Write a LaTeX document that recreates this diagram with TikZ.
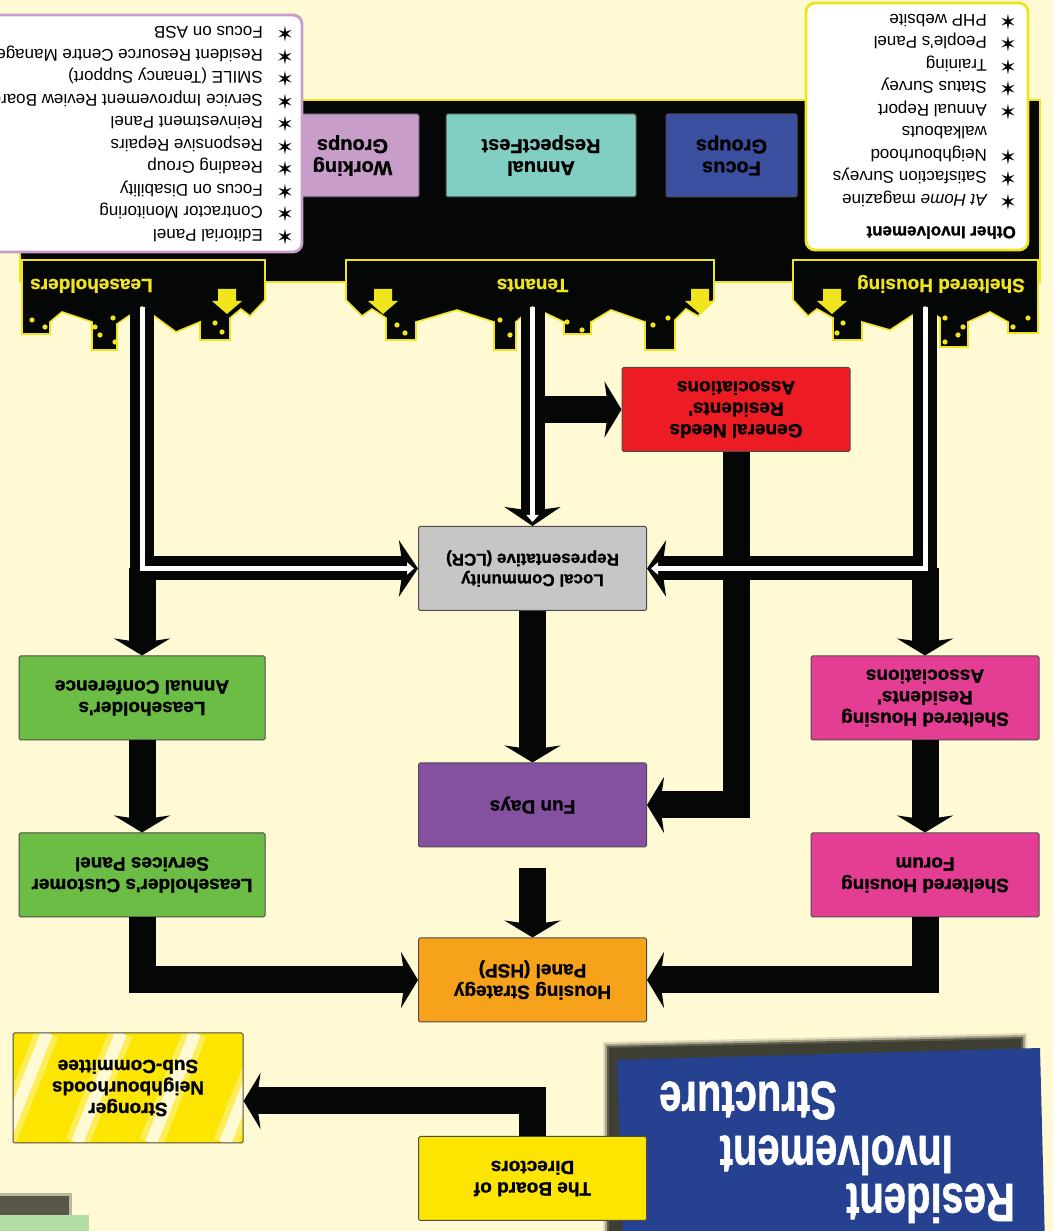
\documentclass[tikz,border=0pt]{standalone}
\usepackage{fontspec}
\setmainfont{Liberation Sans}
\newfontfamily\heavy{Liberation Sans}[BoldFeatures={FakeBold=1.1}]
\newfontfamily\starfont{DejaVu Sans}
\usetikzlibrary{arrows.meta,calc}

\definecolor{cream}{HTML}{FFF9D4}
\definecolor{ink}{HTML}{050707}
\definecolor{gold}{HTML}{F0E41C}
\definecolor{fgblue}{HTML}{3B4FA1}
\definecolor{rfteal}{HTML}{80CFC2}
\definecolor{wglilac}{HTML}{C99DC9}
\definecolor{gnred}{HTML}{ED1C24}
\definecolor{lcrgrey}{HTML}{C6C6C6}
\definecolor{lhgreen}{HTML}{6CBD45}
\definecolor{shpink}{HTML}{E43E94}
\definecolor{fdpurple}{HTML}{8451A1}
\definecolor{hsporange}{HTML}{F7A21B}
\definecolor{boardyellow}{HTML}{FCE500}
\definecolor{titleblue}{HTML}{26418F}
\definecolor{shadowgrey}{HTML}{3E3E33}
\definecolor{cornergreen}{HTML}{B5DDA6}

\newcommand\bulletstar[1][29pt]{\makebox[#1][l]{\hspace*{-2pt}\starfont\fontsize{21}{17}\selectfont ✶}}

\begin{document}
\begin{tikzpicture}[x=1pt, y=1pt,
  box/.style={draw=black!70, line width=1pt, rounded corners=1.5pt, minimum width=228pt,
    minimum height=84pt, inner sep=2pt, align=center, font=\heavy\fontsize{19}{21.5}\selectfont\bfseries},
  tile/.style={box, minimum height=83pt, font=\heavy\fontsize{20}{22}\selectfont\bfseries},
  flow/.style={draw=ink, line width=27pt, -{Stealth[length=17pt,width=56pt,inset=4pt]}},
  pipe/.style={draw=ink, line width=24pt, -{Stealth[length=19pt,width=56pt,inset=4pt]}},
  stripe/.style={draw=white, line width=5pt, shorten >=4pt, -{Triangle[length=7pt,width=12pt]}},
  castle/.style={fill=ink, draw=gold, line width=1.6pt},
  listbox/.style={fill=white, rounded corners=9pt, line width=2.8pt},
  listtext/.style={anchor=north west, inner sep=0pt, align=left, font=\fontsize{17}{22.5}\selectfont},
  castlelabel/.style={text=gold, inner sep=0pt, font=\heavy\fontsize{19}{21}\selectfont\bfseries},
  heading/.style={text=white, inner sep=0pt, anchor=base west, xscale=0.74,
    font=\heavy\fontsize{54}{58}\selectfont\bfseries}
]
\useasboundingbox (0,0) rectangle (1053,1231);
\clip (0,0) rectangle (1053,1231);
\fill[cream] (0,0) rectangle (1053,1231);

% the whole chart is printed upside down
\begin{scope}[rotate around={180:(526.5,615.5)}, transform shape]

  % title panel
  \fill[shadowgrey, opacity=.15] (26,1033) -- (450,1042) -- (450,1245) -- (26,1245) -- cycle;
  \fill[shadowgrey, opacity=.35] (28,1035) -- (448,1044) -- (448,1245) -- (28,1245) -- cycle;
  \fill[shadowgrey, opacity=.7] (30,1037) -- (446,1046) -- (446,1245) -- (30,1245) -- cycle;
  \fill[shadowgrey] (32,1039) -- (444,1048) -- (444,1245) -- (32,1245) -- cycle;
  \fill[titleblue] (13,1048) -- (436,1060) -- (430,1245) -- (8,1245) -- cycle;
  \node[heading] (t1) at (38,1184) {Resident};
  \node[heading] (t2) at (100,1136) {Involvement};
  \node[heading] (t3) at (216,1082) {Structure};

  % corner of the next panel
  \fill[shadowgrey, opacity=.35] (981,1193) rectangle (1060,1240);
  \fill[shadowgrey, opacity=.8] (984,1196) rectangle (1060,1240);
  \fill[cornergreen] (964,1215) rectangle (1060,1240);

  % black band with the three castles
  \draw[fill=ink, draw=gold, line width=1.6pt] (13,100) rectangle (1033,282);
  \draw[castle] (788,260) -- (788,300) -- (803,316) -- (812,309) -- (823,318) -- (823,340)
    -- (853,340) -- (853,322) -- (877,332) -- (911,307) coordinate (lh) -- (936,324) -- (936,350)
    -- (961,350) -- (961,322) -- (991,312) -- (1003,322) -- (1003,334) -- (1031,334)
    -- (1031,260) -- cycle;
  \draw[castle] (707,260) -- (707,300) -- (691,316) -- (681,309) -- (667,318) -- (667,340)
    -- (637,340) -- (637,322) -- (596,310) -- (559,322) -- (559,350) -- (537,350) -- (537,322)
    -- (520.5,307) coordinate (tn) -- (489,322) -- (489,334) -- (462,334) -- (462,322)
    -- (442,310) -- (408,322) -- (408,350) -- (378,350) -- (378,320) -- (367,309)
    -- (355,316) -- (339,300) -- (339,260) -- cycle;
  \draw[castle] (260,260) -- (260,300) -- (245,316) -- (236,309) -- (220,318) -- (220,340)
    -- (191,340) -- (191,322) -- (163,330) -- (128,307) coordinate (sh) -- (113,318) -- (113,347)
    -- (85,347) -- (85,322) -- (63,312) -- (45,322) -- (45,333) -- (15,333)
    -- (15,260) -- cycle;
  % windows
  \foreach \p in {(1021,320),(1008,327),(958,327),(953,335),(940,318),(938,342),(838,323),(831,332),
      (656,325),(648,333),(553,320),(543,335),(486,322),(471,330),(400,325),(385,318),
      (210,323),(216,333),(108,318),(90,327),(95,335),(108,342),(25,318),(40,327)}
    \fill[gold] \p circle (2.6);
  % little yellow arrows
  \foreach \u in {826,670,353,221}
    \fill[gold] (\u-9,289) -- (\u+9,289) -- (\u+9,301) -- (\u+15,301) -- (\u,314)
      -- (\u-15,301) -- (\u-9,301) -- cycle;
  \node[castlelabel, anchor=base east] (lhlabel) at (1023,279) {Leaseholders};
  \node[castlelabel, anchor=base] (tnlabel) at (520.5,279) {Tenants};
  \node[castlelabel, anchor=base west] (shlabel) at (28,279) {Sheltered Housing};

  % groups inside the band
  \node[tile, fill=fgblue, minimum width=131pt] (focus) at (321.5,155.5) {Focus\\Groups};
  \node[tile, fill=rfteal, minimum width=190pt] (respect) at (512,155.5) {Annual\\RespectFest};
  \node[tile, fill=wglilac, minimum width=133pt] (working) at (700.5,155.5) {Working\\Groups};

  % lists
  \draw[listbox, draw=wglilac] (751,15) rectangle (1110,252);
  \node[listtext] (tenantlist) at (761,245) {\bulletstar Editorial Panel\\
    \bulletstar Contractor Monitoring\\ \bulletstar Focus on Disability\\
    \bulletstar Reading Group\\ \bulletstar Responsive Repairs\\
    \bulletstar Reinvestment Panel\\ \bulletstar Service Improvement Review Board\\
    \bulletstar SMILE (Tenancy Support)\\ \bulletstar Resident Resource Centre Management\\
    \bulletstar Focus on ASB};
  \draw[listbox, draw=gold] (25,3) rectangle (247,250);
  \node[listtext] (otherlist) at (37,239) {{\heavy\bfseries Other Involvement}\\[9.5pt]
    \hspace*{1pt}\bulletstar[28pt]\textit{At Home} magazine\\
    \hspace*{1pt}\bulletstar[28pt]Satisfaction Surveys\\
    \hspace*{1pt}\bulletstar[28pt]Neighbourhood\\
    \hspace*{29pt}walkabouts\\
    \hspace*{1pt}\bulletstar[28pt]Annual Report\\
    \hspace*{1pt}\bulletstar[28pt]Status Survey\\
    \hspace*{1pt}\bulletstar[28pt]Training\\
    \hspace*{1pt}\bulletstar[28pt]People's Panel\\
    \hspace*{1pt}\bulletstar[28pt]PHP website};

  % main boxes
  \node[box, fill=gnred] (gn) at (317,409.5) {General Needs\\Residents'\\Associations};
  \node[box, fill=lcrgrey, font=\heavy\fontsize{17}{20.5}\selectfont\bfseries] (lcr) at (520.5,568.5)
    {Local Community\\Representative (LCR)};
  \node[box, fill=lhgreen, minimum width=246pt] (ac) at (911,698) {Leaseholder's\\Annual Conference};
  \node[box, fill=shpink] (shra) at (128,698) {Sheltered Housing\\Residents'\\Associations};
  \node[box, fill=fdpurple] (fd) at (520.5,805) {Fun Days};
  \node[box, fill=lhgreen, minimum width=246pt] (cs) at (911,875) {Leaseholder's Customer\\Services Panel};
  \node[box, fill=shpink] (shf) at (128,875) {Sheltered Housing\\Forum};
  \node[box, fill=hsporange] (hsp) at (520.5,980) {Housing Strategy\\Panel (HSP)};
  \node[box, fill=boardyellow] (bd) at (520.5,1178.5) {The Board of\\Directors};
  \begin{scope}
    \clip (810,1033) rectangle (1040,1143);
    \fill[boardyellow] (810,1033) rectangle (1040,1143);
    \foreach \u in {784,858,932,1006} {
      \draw[white, opacity=.35, line width=24pt] (\u,1033) -- ++(44,110);
      \draw[white, opacity=.75, line width=12pt] (\u,1033) -- ++(44,110);
    }
  \end{scope}
  \node[box, minimum width=230pt, minimum height=110pt] (sn) at (925,1088)
    {Stronger\\Neighbourhoods\\Sub-Committee};

  % connectors
  \draw[flow] (lh |- lcr.east) -- (lh |- ac.south);
  \draw[pipe] (lh) |- (lcr.east);
  \draw[stripe] (lh) |- (lcr.east);
  \draw[flow] (ac.north) -- (cs.south);
  \draw[flow] (cs.north) |- (hsp.east);

  \draw[flow] (tn |- gn.east) -- (gn.east);
  \draw[pipe] (tn) -- (lcr.south);
  \draw[stripe] (tn) -- (lcr.south);
  \draw[flow] (lcr.north) -- (fd.south);
  \draw[flow] (gn.north) |- (fd.west);
  \draw[flow] ($(fd.north)+(0,21)$) -- (hsp.south);

  \draw[flow] (sh |- lcr.west) -- (sh |- shra.south);
  \draw[pipe] (sh) |- (lcr.west);
  \draw[stripe] (sh) |- (lcr.west);
  \draw[flow] (shra.north) -- (shf.south);
  \draw[flow] (shf.north) |- (hsp.west);

  \draw[flow] (bd.south) |- ($(sn.west)+(0,13)$);
\end{scope}
\end{tikzpicture}
\end{document}
